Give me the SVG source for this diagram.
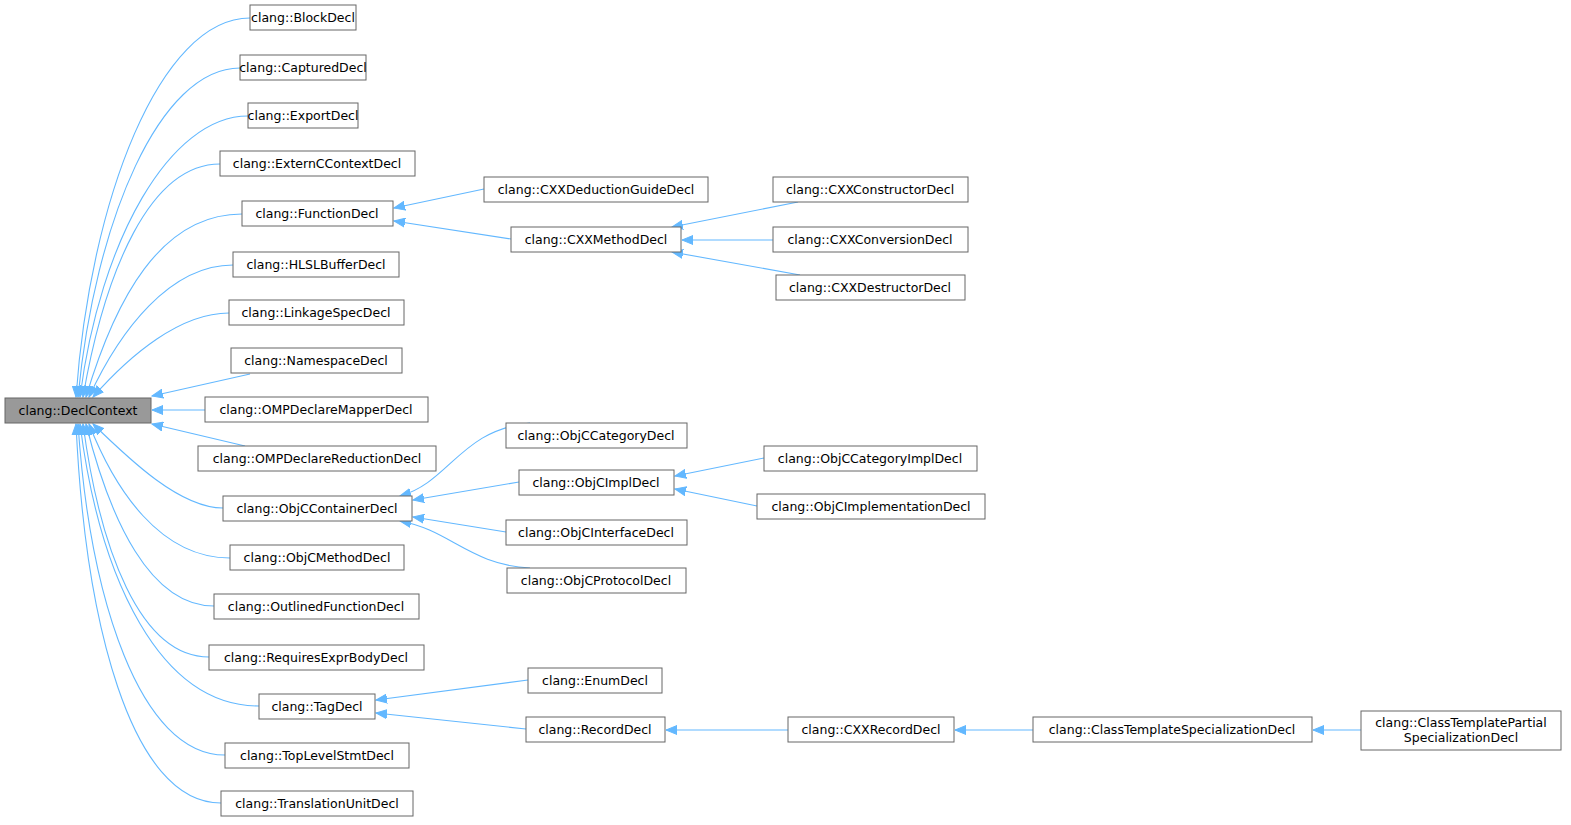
<svg xmlns="http://www.w3.org/2000/svg" width="1571" height="825" viewBox="0 0 1571 825">
<style>
.n rect{fill:#fff;stroke:#666;stroke-width:1}
.n text{font-family:"DejaVu Sans",sans-serif;font-size:12.5px;fill:#000;text-anchor:middle}
#edges path{fill:none;stroke:#63b8ff;stroke-width:1.1;marker-end:url(#a)}
</style>
<defs><marker id="a" markerWidth="12" markerHeight="10" refX="11" refY="5" orient="auto" markerUnits="userSpaceOnUse"><path d="M0,0.5 L11,5 L0,9.5z" fill="#63b8ff" stroke="#63b8ff"/></marker></defs>
<rect width="1571" height="825" fill="#fff"/>
<g id="edges">
<path d="M250,18 C160,18 90,200 76,397"/>
<path d="M240,68 C160,68 95,220 78,397"/>
<path d="M248,116 C170,116 100,240 80,397"/>
<path d="M220,164 C150,164 105,270 83,397"/>
<path d="M242,214 C160,214 115,300 86,397"/>
<path d="M233,265 C170,265 120,330 89,397"/>
<path d="M229,313 C180,313 130,355 93,397"/>
<path d="M250,374 L152,396"/>
<path d="M205,410 L152,410"/>
<path d="M245,446 L152,424"/>
<path d="M223,508 C180,508 130,460 93,424"/>
<path d="M230,558 C160,558 115,490 89,424"/>
<path d="M214,606 C150,606 110,520 86,424"/>
<path d="M209,657 C140,657 100,550 83,424"/>
<path d="M259,706 C160,706 100,580 80,424"/>
<path d="M225,755 C140,755 90,600 78,424"/>
<path d="M221,803 C130,803 85,620 76,424"/>
<path d="M484,189 L394,208"/>
<path d="M511,239 L394,221"/>
<path d="M798,202 L672,227"/>
<path d="M773,240 L682,240"/>
<path d="M800,275 L672,252"/>
<path d="M530,423 C460,430 450,482 400,496"/>
<path d="M519,482 L413,500"/>
<path d="M506,532 L413,517"/>
<path d="M530,568 C470,565 450,530 400,521"/>
<path d="M764,458 L675,476"/>
<path d="M757,506 L675,489"/>
<path d="M528,680 L376,700"/>
<path d="M526,729 L376,713"/>
<path d="M788,730 L666,730"/>
<path d="M1033,730 L955,730"/>
<path d="M1361,730 L1313,730"/>
</g>
<g id="DeclContext" class="n"><rect x="5" y="398" width="146" height="25" style="fill:#999"/><text x="78" y="415">clang::DeclContext</text></g>
<g id="BlockDecl" class="n"><rect x="250" y="5" width="106" height="25"/><text x="303" y="22">clang::BlockDecl</text></g>
<g id="CapturedDecl" class="n"><rect x="240" y="55" width="126" height="25"/><text x="303" y="72">clang::CapturedDecl</text></g>
<g id="ExportDecl" class="n"><rect x="248" y="103" width="110" height="25"/><text x="303" y="120">clang::ExportDecl</text></g>
<g id="ExternCContextDecl" class="n"><rect x="220" y="151" width="195" height="25"/><text x="317" y="168">clang::ExternCContextDecl</text></g>
<g id="FunctionDecl" class="n"><rect x="242" y="201" width="151" height="25"/><text x="317" y="218">clang::FunctionDecl</text></g>
<g id="HLSLBufferDecl" class="n"><rect x="233" y="252" width="166" height="25"/><text x="316" y="269">clang::HLSLBufferDecl</text></g>
<g id="LinkageSpecDecl" class="n"><rect x="229" y="300" width="175" height="25"/><text x="316" y="317">clang::LinkageSpecDecl</text></g>
<g id="NamespaceDecl" class="n"><rect x="231" y="348" width="171" height="25"/><text x="316" y="365">clang::NamespaceDecl</text></g>
<g id="OMPDeclareMapperDecl" class="n"><rect x="205" y="397" width="223" height="25"/><text x="316" y="414">clang::OMPDeclareMapperDecl</text></g>
<g id="OMPDeclareReductionDecl" class="n"><rect x="198" y="446" width="238" height="25"/><text x="317" y="463">clang::OMPDeclareReductionDecl</text></g>
<g id="ObjCContainerDecl" class="n"><rect x="223" y="496" width="189" height="25"/><text x="317" y="513">clang::ObjCContainerDecl</text></g>
<g id="ObjCMethodDecl" class="n"><rect x="230" y="545" width="174" height="25"/><text x="317" y="562">clang::ObjCMethodDecl</text></g>
<g id="OutlinedFunctionDecl" class="n"><rect x="214" y="594" width="205" height="25"/><text x="316" y="611">clang::OutlinedFunctionDecl</text></g>
<g id="RequiresExprBodyDecl" class="n"><rect x="209" y="645" width="215" height="25"/><text x="316" y="662">clang::RequiresExprBodyDecl</text></g>
<g id="TagDecl" class="n"><rect x="259" y="694" width="116" height="25"/><text x="317" y="711">clang::TagDecl</text></g>
<g id="TopLevelStmtDecl" class="n"><rect x="225" y="743" width="184" height="25"/><text x="317" y="760">clang::TopLevelStmtDecl</text></g>
<g id="TranslationUnitDecl" class="n"><rect x="221" y="791" width="192" height="25"/><text x="317" y="808">clang::TranslationUnitDecl</text></g>
<g id="CXXDeductionGuideDecl" class="n"><rect x="484" y="177" width="224" height="25"/><text x="596" y="194">clang::CXXDeductionGuideDecl</text></g>
<g id="CXXMethodDecl" class="n"><rect x="511" y="227" width="170" height="25"/><text x="596" y="244">clang::CXXMethodDecl</text></g>
<g id="ObjCCategoryDecl" class="n"><rect x="506" y="423" width="181" height="25"/><text x="596" y="440">clang::ObjCCategoryDecl</text></g>
<g id="ObjCImplDecl" class="n"><rect x="519" y="470" width="155" height="25"/><text x="596" y="487">clang::ObjCImplDecl</text></g>
<g id="ObjCInterfaceDecl" class="n"><rect x="506" y="520" width="181" height="25"/><text x="596" y="537">clang::ObjCInterfaceDecl</text></g>
<g id="ObjCProtocolDecl" class="n"><rect x="507" y="568" width="179" height="25"/><text x="596" y="585">clang::ObjCProtocolDecl</text></g>
<g id="EnumDecl" class="n"><rect x="528" y="668" width="134" height="25"/><text x="595" y="685">clang::EnumDecl</text></g>
<g id="RecordDecl" class="n"><rect x="526" y="717" width="139" height="25"/><text x="595" y="734">clang::RecordDecl</text></g>
<g id="CXXConstructorDecl" class="n"><rect x="773" y="177" width="195" height="25"/><text x="870" y="194">clang::CXXConstructorDecl</text></g>
<g id="CXXConversionDecl" class="n"><rect x="773" y="227" width="195" height="25"/><text x="870" y="244">clang::CXXConversionDecl</text></g>
<g id="CXXDestructorDecl" class="n"><rect x="776" y="275" width="189" height="25"/><text x="870" y="292">clang::CXXDestructorDecl</text></g>
<g id="ObjCCategoryImplDecl" class="n"><rect x="764" y="446" width="213" height="25"/><text x="870" y="463">clang::ObjCCategoryImplDecl</text></g>
<g id="ObjCImplementationDecl" class="n"><rect x="757" y="494" width="228" height="25"/><text x="871" y="511">clang::ObjCImplementationDecl</text></g>
<g id="CXXRecordDecl" class="n"><rect x="788" y="717" width="166" height="25"/><text x="871" y="734">clang::CXXRecordDecl</text></g>
<g id="ClassTemplateSpecializationDecl" class="n"><rect x="1033" y="717" width="279" height="25"/><text x="1172" y="734">clang::ClassTemplateSpecializationDecl</text></g>
<g id="ClassTemplatePartialSpecializationDecl" class="n"><rect x="1361" y="711" width="200" height="39"/><text x="1461" y="727">clang::ClassTemplatePartial</text><text x="1461" y="742">SpecializationDecl</text></g>
</svg>
